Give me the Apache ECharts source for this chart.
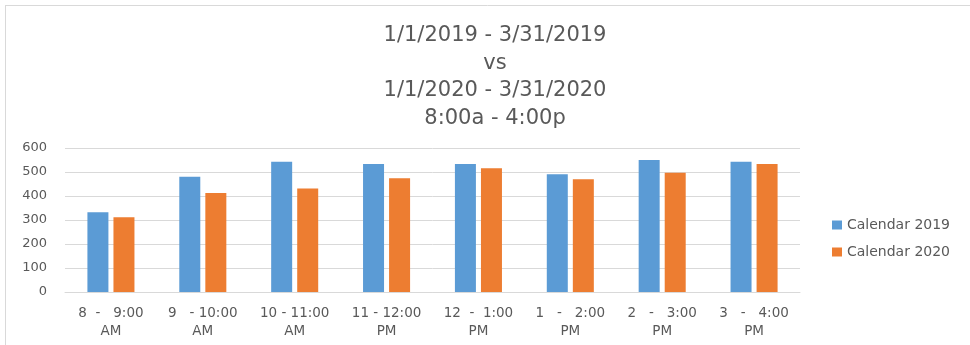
<!DOCTYPE html>
<html>
<head>
<meta charset="utf-8">
<script src="https://cdn.jsdelivr.net/npm/echarts@6/dist/echarts.min.js"></script>
<style>
  html, body { margin: 0; padding: 0; background: #fff; }
  #chart { width: 970px; height: 345px; }
</style>
</head>
<body>
<div id="chart"></div>
<script>
// Hourly slots, 8 AM to 4 PM
const categories = [
  '8  -   9:00\nAM', '9   - 10:00\nAM', '10 - 11:00\nAM', '11 - 12:00\nPM',
  '12  -  1:00\nPM', '1   -   2:00\nPM', '2   -   3:00\nPM', '3   -   4:00\nPM'
];
const calendar2019 = [332, 480, 543, 533, 533, 491, 550, 543];
const calendar2020 = [311, 412, 431, 474, 516, 470, 497, 533];
const yTicks = { min: 0, max: 600, interval: 100 };
const titleLines = ['1/1/2019 - 3/31/2019', 'vs', '1/1/2020 - 3/31/2020', '8:00a - 4:00p'];

const FONT = '"DejaVu Sans", sans-serif';
const TEXT = '#595959';

const chart = echarts.init(document.getElementById('chart'), null, { renderer: 'canvas' });
chart.setOption({
  animation: false,
  backgroundColor: '#fff',
  title: {
    text: titleLines.join('\n'),
    left: 490, top: 17, textAlign: 'center',
    textStyle: { fontFamily: FONT, fontSize: 21, fontWeight: 'normal', color: TEXT, lineHeight: 27.5 }
  },
  legend: {
    orient: 'vertical', left: 827, top: 213,
    itemWidth: 10, itemHeight: 9, itemGap: 13,
    icon: 'rect',
    textStyle: { fontFamily: FONT, fontSize: 14, color: TEXT, padding: [0, 0, 0, 0] },
    data: ['Calendar 2019', 'Calendar 2020']
  },
  grid: { left: 65, right: 170, top: 148, bottom: 53, containLabel: false },
  xAxis: {
    type: 'category', data: categories,
    axisLine: { lineStyle: { color: '#d9d9d9' } },
    axisTick: { show: false },
    axisLabel: { fontFamily: FONT, fontSize: 13.5, color: TEXT, lineHeight: 18, margin: 12, interval: 0 }
  },
  yAxis: {
    type: 'value', min: yTicks.min, max: yTicks.max, interval: yTicks.interval,
    axisLine: { show: false }, axisTick: { show: false },
    splitLine: { lineStyle: { color: '#d9d9d9' } },
    axisLabel: { fontFamily: FONT, fontSize: 13, color: TEXT, margin: 18 }
  },
  series: [
    { name: 'Calendar 2019', type: 'bar', data: calendar2019, barWidth: 21, barGap: '24%',
      itemStyle: { color: '#5B9BD5' } },
    { name: 'Calendar 2020', type: 'bar', data: calendar2020, barWidth: 21,
      itemStyle: { color: '#ED7D31' } }
  ],
  graphic: [
    { type: 'line', shape: { x1: 5, y1: 5.5, x2: 970, y2: 5.5 }, style: { stroke: '#d9d9d9', lineWidth: 1 } },
    { type: 'line', shape: { x1: 5.5, y1: 5, x2: 5.5, y2: 345 }, style: { stroke: '#d9d9d9', lineWidth: 1 } }
  ]
});
</script>
</body>
</html>
